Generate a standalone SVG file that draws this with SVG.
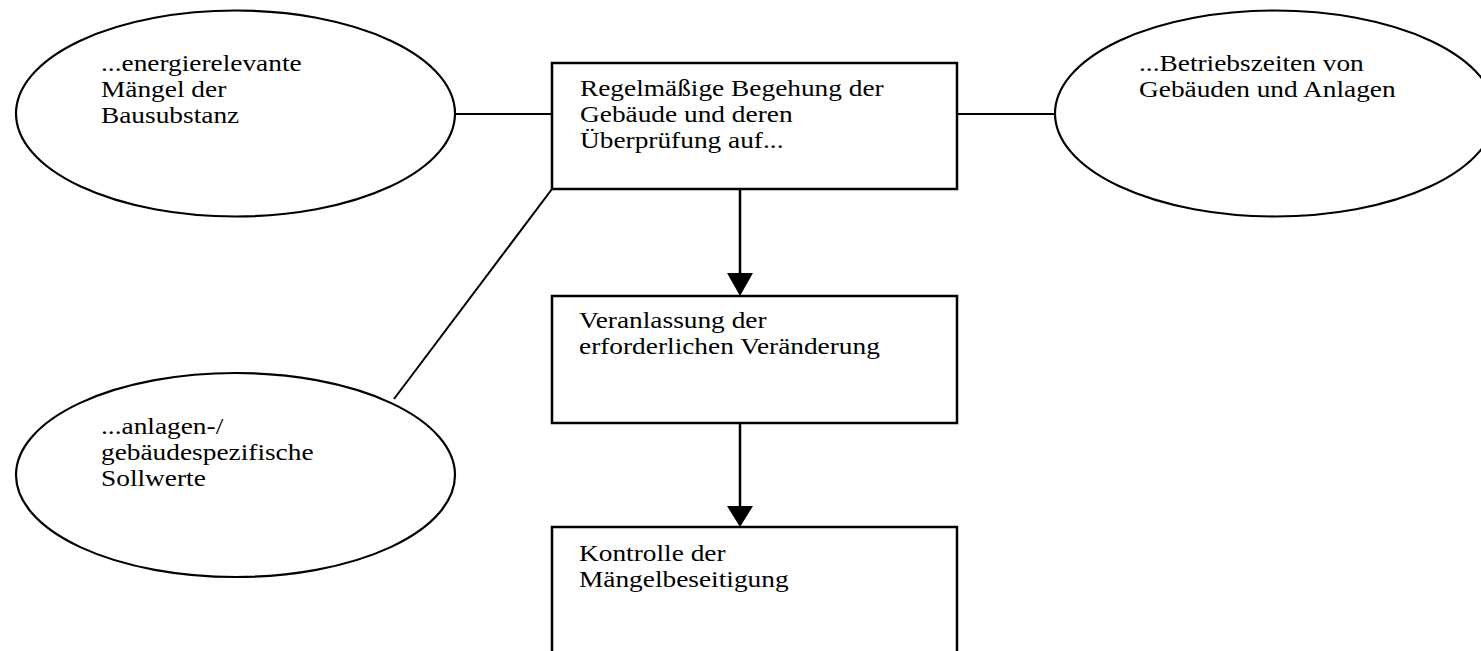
<svg xmlns="http://www.w3.org/2000/svg" width="1481" height="651" viewBox="0 0 1481 651">
<defs>
<style>
.shape{fill:#fff;stroke:#000;stroke-width:2.2}
.box{fill:#fff;stroke:#000;stroke-width:2.5}
.conn{stroke:#000;stroke-width:2;fill:none}
.arr{stroke:#000;stroke-width:2.5;fill:none}
.head{fill:#000;stroke:none}
text{font-family:"Liberation Serif","Times New Roman",serif;font-size:24px;fill:#000}
</style>
</defs>
<rect width="1481" height="651" fill="#fff"/>
<g id="connectors">
<line class="conn" x1="455" y1="114" x2="552" y2="114"/>
<line class="conn" x1="957" y1="114" x2="1055" y2="114"/>
<line class="conn" x1="552" y1="189" x2="394" y2="399"/>
<line class="arr" x1="740" y1="189" x2="740" y2="276"/>
<polygon class="head" points="727,273 753,273 740,296"/>
<line class="arr" x1="740" y1="423" x2="740" y2="509"/>
<polygon class="head" points="727,506 753,506 740,527"/>
</g>
<g id="n_mangel">
<ellipse class="shape" cx="235.5" cy="113.5" rx="219.5" ry="103"/>
<text transform="matrix(1.14 0 0 1 101 71)"><tspan x="0" y="0">...energierelevante</tspan><tspan x="0" y="26.2">Mängel der</tspan><tspan x="0" y="52.4">Bausubstanz</tspan></text>
</g>
<g id="n_begehung">
<rect class="box" x="552" y="63" width="405" height="126"/>
<text transform="matrix(1.14 0 0 1 580 95.5)"><tspan x="0" y="0">Regelmäßige Begehung der</tspan><tspan x="0" y="26.3">Gebäude und deren</tspan><tspan x="0" y="52.6">Überprüfung auf...</tspan></text>
</g>
<g id="n_betrieb">
<ellipse class="shape" cx="1275" cy="113.5" rx="220" ry="103"/>
<text transform="matrix(1.14 0 0 1 1139 71)"><tspan x="0" y="0">...Betriebszeiten von</tspan><tspan x="0" y="26.2">Gebäuden und Anlagen</tspan></text>
</g>
<g id="n_sollwerte">
<ellipse class="shape" cx="235.5" cy="475" rx="219.5" ry="102"/>
<text transform="matrix(1.14 0 0 1 101 434)"><tspan x="0" y="0">...anlagen-/</tspan><tspan x="0" y="26.2">gebäudespezifische</tspan><tspan x="0" y="52.4">Sollwerte</tspan></text>
</g>
<g id="n_veranlassung">
<rect class="box" x="552" y="296" width="405" height="127"/>
<text transform="matrix(1.14 0 0 1 579 328)"><tspan x="0" y="0">Veranlassung der</tspan><tspan x="0" y="26.3">erforderlichen Veränderung</tspan></text>
</g>
<g id="n_kontrolle">
<rect class="box" x="552" y="527" width="405" height="127"/>
<text transform="matrix(1.14 0 0 1 579 561)"><tspan x="0" y="0">Kontrolle der</tspan><tspan x="0" y="26.3">Mängelbeseitigung</tspan></text>
</g>
</svg>
